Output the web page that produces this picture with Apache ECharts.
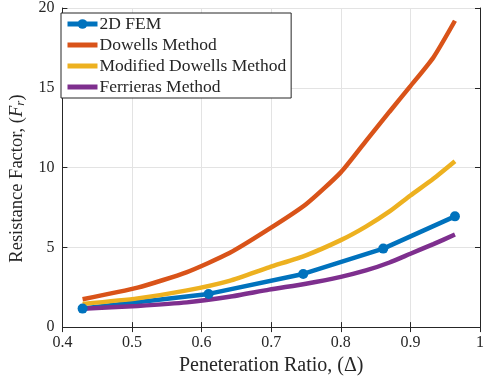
<!DOCTYPE html>
<html style="height: 100%">
<head>
	<meta charset="utf-8">
</head>
<body style="height: 100%; margin: 0; background: #fff">
<div id="container" style="width: 487px; height: 381px"></div>
<script type="text/javascript" src="https://cdn.jsdelivr.net/npm/echarts@6/dist/echarts.min.js"></script>
<script type="text/javascript">
    // values
    var femX = [0.429, 0.61, 0.746, 0.861, 0.964];
    var femY = [1.16, 2.08, 3.33, 4.92, 6.94];

    var methodX = [0.429, 0.508, 0.579, 0.64, 0.697, 0.75, 0.8, 0.836, 0.87, 0.9, 0.933, 0.964];
    var dowells = [1.75, 2.47, 3.45, 4.64, 6.15, 7.7, 9.7, 11.66, 13.5, 15.1, 16.9, 19.2];
    var modDowells = [1.45, 1.8, 2.3, 2.9, 3.75, 4.5, 5.45, 6.3, 7.25, 8.25, 9.3, 10.4];
    var ferrieras = [1.15, 1.33, 1.55, 1.9, 2.35, 2.72, 3.15, 3.55, 4.05, 4.6, 5.2, 5.8];

    var seriesNames = ['2D FEM', 'Dowells Method', 'Modified Dowells Method', 'Ferrieras Method'];
    var colors = ['#0072BD', '#D95319', '#EDB120', '#7E2F8E'];

    function pairs(xs, ys) {
        var out = [];
        for (var i = 0; i < xs.length; i++) out.push([xs[i], ys[i]]);
        return out;
    }

    var font = 'Liberation Serif';
    var axisColor = '#262626';

    var dom = document.getElementById("container");
    var myChart = echarts.init(dom);
    var option = {
        backgroundColor: '#fff',
        animation: false,
        color: colors,
        textStyle: {fontFamily: font},
        grid: {left: 54, right: 1, top: 5, bottom: 53, containLabel: false},
        legend: {
            left: 61, top: 13,
            orient: 'vertical',
            itemWidth: 30, itemHeight: 12, itemGap: 3,
            padding: [2, 5, 2, 4],
            borderColor: '#262626', borderWidth: 1,
            backgroundColor: '#fff',
            lineStyle: {width: 5},
            textStyle: {fontFamily: font, fontSize: 17.5, lineHeight: 18, color: '#262626', padding: [0, 0, 0, -3]},
            // method curves have no markers, so hide the legend dot
            data: [
                {name: seriesNames[0]},
                {name: seriesNames[1], itemStyle: {opacity: 0}},
                {name: seriesNames[2], itemStyle: {opacity: 0}},
                {name: seriesNames[3], itemStyle: {opacity: 0}}
            ]
        },
        xAxis: [{
            type: 'value', min: 0.4, max: 1, interval: 0.1,
            name: 'Peneteration Ratio, (\u0394)', nameLocation: 'middle', nameGap: 26,
            nameTextStyle: {fontFamily: font, fontSize: 20, color: '#262626'},
            axisLine: {lineStyle: {color: axisColor}},
            axisTick: {inside: true, length: 5, lineStyle: {color: axisColor}},
            axisLabel: {fontFamily: font, fontSize: 16, color: '#262626', margin: 8},
            splitLine: {show: true, lineStyle: {color: '#e3e3e3'}}
        }, {
            type: 'value', min: 0.4, max: 1, interval: 0.1, position: 'top',
            axisLine: {show: true, lineStyle: {color: axisColor}},
            axisTick: {show: true, inside: true, length: 5, lineStyle: {color: axisColor}},
            axisLabel: {show: false}, splitLine: {show: false}
        }],
        yAxis: [{
            type: 'value', min: 0, max: 20, interval: 5,
            name: '{a|Resistance Factor, (}{i|F}{s|r}{a|)}', nameLocation: 'middle', nameGap: 28,
            nameRotate: 90,
            nameTextStyle: {
                padding: [0, 22, 0, 0],
                rich: {
                    a: {fontFamily: font, fontSize: 18.5, color: '#262626'},
                    i: {fontFamily: font, fontSize: 18.5, fontStyle: 'italic', color: '#262626'},
                    s: {fontFamily: font, fontSize: 13, fontStyle: 'italic', color: '#262626', verticalAlign: 'bottom', padding: [7, 0, 0, 0]}
                }
            },
            axisLine: {show: true, lineStyle: {color: axisColor}},
            axisTick: {show: true, inside: true, length: 5, lineStyle: {color: axisColor}},
            axisLabel: {fontFamily: font, fontSize: 16, color: '#262626', margin: 8},
            splitLine: {show: true, lineStyle: {color: '#e3e3e3'}}
        }, {
            type: 'value', min: 0, max: 20, interval: 5, position: 'right',
            axisLine: {show: true, lineStyle: {color: axisColor}},
            axisTick: {show: true, inside: true, length: 5, lineStyle: {color: axisColor}},
            axisLabel: {show: false}, splitLine: {show: false}
        }],
        series: [{
            name: seriesNames[0], type: 'line',
            data: pairs(femX, femY),
            symbol: 'circle', symbolSize: 10,
            lineStyle: {width: 4.5}
        }, {
            name: seriesNames[1], type: 'line',
            data: pairs(methodX, dowells),
            symbol: 'none', smooth: 0.2, lineStyle: {width: 4.5}
        }, {
            name: seriesNames[2], type: 'line',
            data: pairs(methodX, modDowells),
            symbol: 'none', smooth: 0.2, lineStyle: {width: 4.5}
        }, {
            name: seriesNames[3], type: 'line',
            data: pairs(methodX, ferrieras),
            symbol: 'none', smooth: 0.2, lineStyle: {width: 4.5}
        }]
    };
    myChart.setOption(option);
</script>
</body>
</html>
